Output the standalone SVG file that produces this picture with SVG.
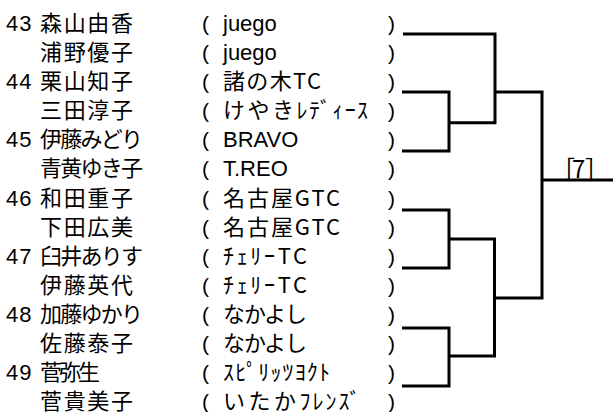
<svg xmlns="http://www.w3.org/2000/svg" width="613" height="412" viewBox="0 0 613 412">
<style>
text{font-family:"Liberation Sans","Noto Sans CJK JP",sans-serif;font-size:22px;fill:#000}
.n{letter-spacing:1px}
.jp{font-family:"Noto Sans CJK JP","Liberation Sans",sans-serif}
.p{font-size:21px}
.c{fill:none;stroke:#000;stroke-width:3;stroke-linejoin:miter}
</style>
<rect width="613" height="412" fill="#fff"/>
<g id="r1"><text class="n" x="6" y="31">43</text><text class="jp" x="40" y="31" textLength="93" lengthAdjust="spacing">森山由香</text><text class="p" x="202" y="31">(</text><text x="223" y="31">juego</text><text class="p" x="388" y="31">)</text></g>
<g id="r2"><text class="jp" x="40" y="60.08" textLength="93" lengthAdjust="spacing">浦野優子</text><text class="p" x="202" y="60.08">(</text><text x="223" y="60.08">juego</text><text class="p" x="388" y="60.08">)</text></g>
<g id="r3"><text class="n" x="6" y="89.17">44</text><text class="jp" x="40" y="89.17" textLength="93" lengthAdjust="spacing">栗山知子</text><text class="p" x="202" y="89.17">(</text><text class="jp" x="223" y="89.17" textLength="98" lengthAdjust="spacing">諸の木TC</text><text class="p" x="388" y="89.17">)</text></g>
<g id="r4"><text class="jp" x="40" y="118.25" textLength="93" lengthAdjust="spacing">三田淳子</text><text class="p" x="202" y="118.25">(</text><text class="jp" x="223" y="118.25"><tspan style="letter-spacing:2.5px">けやき</tspan><tspan style="letter-spacing:1.4px">ﾚﾃﾞｨｰｽ</tspan></text><text class="p" x="388" y="118.25">)</text></g>
<g id="r5"><text class="n" x="6" y="147.33">45</text><text class="jp" x="40" y="147.33" textLength="103" lengthAdjust="spacing">伊藤みどり</text><text class="p" x="202" y="147.33">(</text><text x="223" y="147.33">BRAVO</text><text class="p" x="388" y="147.33">)</text></g>
<g id="r6"><text class="jp" x="40" y="176.42" textLength="103" lengthAdjust="spacing">青黄ゆき子</text><text class="p" x="202" y="176.42">(</text><text x="223" y="176.42">T.REO</text><text class="p" x="388" y="176.42">)</text></g>
<g id="r7"><text class="n" x="6" y="205.5">46</text><text class="jp" x="40" y="205.5" textLength="93" lengthAdjust="spacing">和田重子</text><text class="p" x="202" y="205.5">(</text><text class="jp" x="223" y="205.5" textLength="117" lengthAdjust="spacing">名古屋GTC</text><text class="p" x="388" y="205.5">)</text></g>
<g id="r8"><text class="jp" x="40" y="234.58" textLength="93" lengthAdjust="spacing">下田広美</text><text class="p" x="202" y="234.58">(</text><text class="jp" x="223" y="234.58" textLength="117" lengthAdjust="spacing">名古屋GTC</text><text class="p" x="388" y="234.58">)</text></g>
<g id="r9"><text class="n" x="6" y="263.67">47</text><text class="jp" x="40" y="263.67" textLength="103" lengthAdjust="spacing">臼井ありす</text><text class="p" x="202" y="263.67">(</text><text class="jp" x="223" y="263.67" textLength="84" lengthAdjust="spacing">ﾁｪﾘｰTC</text><text class="p" x="388" y="263.67">)</text></g>
<g id="r10"><text class="jp" x="40" y="292.75" textLength="93" lengthAdjust="spacing">伊藤英代</text><text class="p" x="202" y="292.75">(</text><text class="jp" x="223" y="292.75" textLength="84" lengthAdjust="spacing">ﾁｪﾘｰTC</text><text class="p" x="388" y="292.75">)</text></g>
<g id="r11"><text class="n" x="6" y="321.83">48</text><text class="jp" x="40" y="321.83" textLength="103" lengthAdjust="spacing">加藤ゆかり</text><text class="p" x="202" y="321.83">(</text><text class="jp" x="223" y="321.83" textLength="84" lengthAdjust="spacing">なかよし</text><text class="p" x="388" y="321.83">)</text></g>
<g id="r12"><text class="jp" x="40" y="350.92" textLength="93" lengthAdjust="spacing">佐藤泰子</text><text class="p" x="202" y="350.92">(</text><text class="jp" x="223" y="350.92" textLength="84" lengthAdjust="spacing">なかよし</text><text class="p" x="388" y="350.92">)</text></g>
<g id="r13"><text class="n" x="6" y="380">49</text><text class="jp" x="40" y="380" textLength="60" lengthAdjust="spacing">菅弥生</text><text class="p" x="202" y="380">(</text><text class="jp" x="223" y="380" textLength="107" lengthAdjust="spacing">ｽﾋﾟﾘｯﾂﾖｸﾄ</text><text class="p" x="388" y="380">)</text></g>
<g id="r14"><text class="jp" x="40" y="408.5" textLength="93" lengthAdjust="spacing">菅貴美子</text><text class="p" x="202" y="408.5">(</text><text class="jp" x="223" y="408.5"><tspan style="letter-spacing:3.5px">いたか</tspan><tspan style="letter-spacing:2px">ﾌﾚﾝｽﾞ</tspan></text><text class="p" x="388" y="408.5">)</text></g>
<g id="result"><text class="jp" x="551 572 585" y="178" style="font-size:24px">［7］</text></g>
<g id="connectors">
<path class="c" d="M403 34H495V122.7H449"/>
<path class="c" d="M402 92H449V151H402"/>
<path class="c" d="M495 92H542V298H494.5"/>
<path class="c" d="M542 180H613"/>
<path class="c" d="M402 210H449V268H402"/>
<path class="c" d="M449 239H494.5V356H449"/>
<path class="c" d="M402 328H449V386H402"/>
</g>
</svg>
